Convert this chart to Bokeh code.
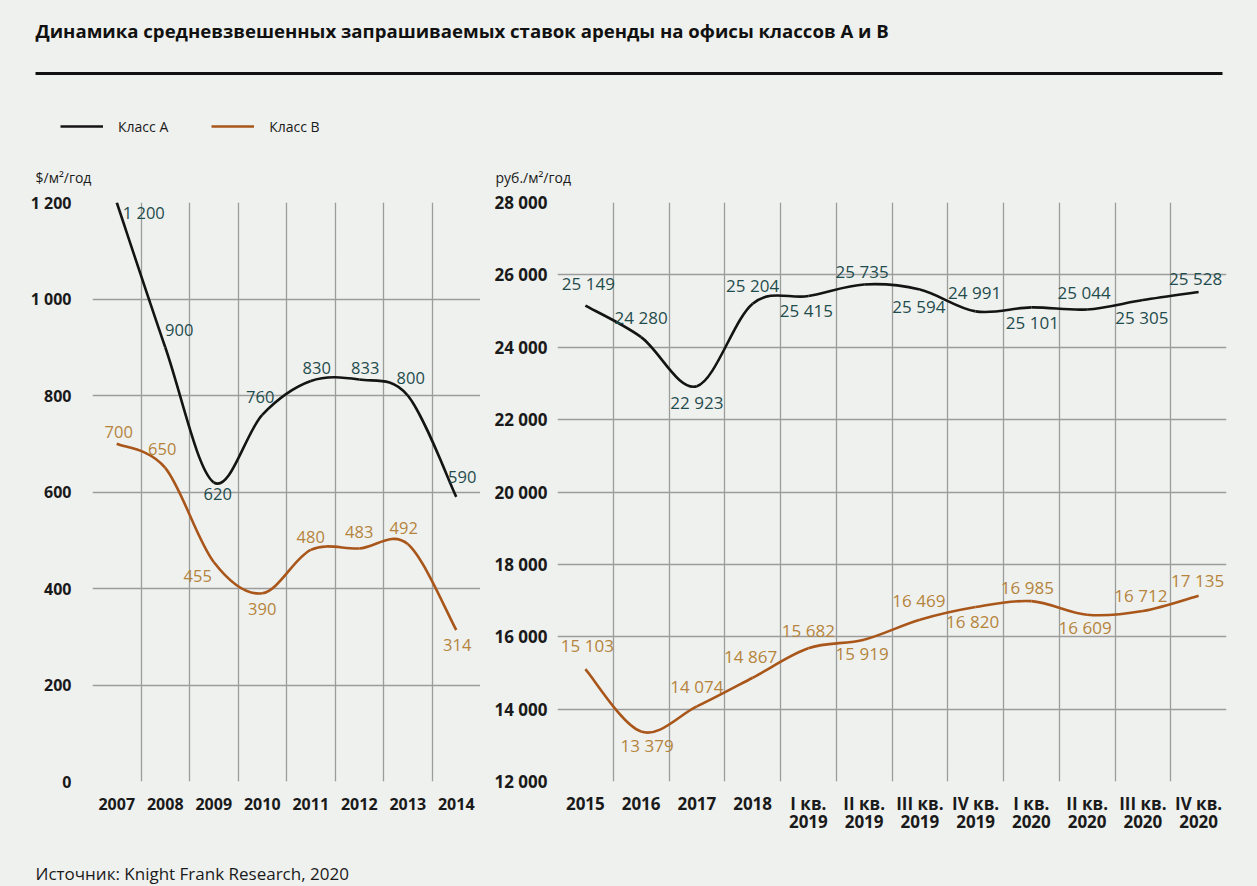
import numpy as np
from bokeh.plotting import figure
from bokeh.models import (Range1d, FixedTicker, Label, BoxAnnotation, Legend,
                          LegendItem, ColumnDataSource)
from bokeh.layouts import column, row
from bokeh.embed import file_html
from bokeh.resources import INLINE
from bokeh.core.properties import value

# ---------------------------------------------------------------- data
TITLE = "Динамика средневзвешенных запрашиваемых ставок аренды на офисы классов А и В"
SOURCE = "Источник: Knight Frank Research, 2020"
SERIES_NAMES = ["Класс А", "Класс В"]
UNIT_USD = "$/м²/год"
UNIT_RUB = "руб./м²/год"

years_usd = ["2007", "2008", "2009", "2010", "2011", "2012", "2013", "2014"]
class_a_usd = [1200, 900, 620, 760, 830, 833, 800, 590]
class_b_usd = [700, 650, 455, 390, 480, 483, 492, 314]
usd_ticks = [0, 200, 400, 600, 800, 1000, 1200]

periods_rub = ["2015", "2016", "2017", "2018",
               "I кв.\n2019", "II кв.\n2019", "III кв.\n2019", "IV кв.\n2019",
               "I кв.\n2020", "II кв.\n2020", "III кв.\n2020", "IV кв.\n2020"]
class_a_rub = [25149, 24280, 22923, 25204, 25415, 25735, 25594, 24991, 25101, 25044, 25305, 25528]
class_b_rub = [15103, 13379, 14074, 14867, 15682, 15919, 16469, 16820, 16985, 16609, 16712, 17135]
rub_ticks = [12000, 14000, 16000, 18000, 20000, 22000, 24000, 26000, 28000]

# label nudges in screen pixels (dx, dy; +dy is downwards)
nudge_a_usd = [(27, 10), (14, -17), (4, 12), (-2, -18), (6, -13), (6, -12), (3, -18), (6, -20)]
nudge_b_usd = [(2, -12), (-3, -19), (-16, 14), (0, 16), (0, -13), (0, -16), (-4, -16), (1, 15)]
nudge_a_rub = [(3, -22), (0, -20), (0, 16), (0, -18), (-2, 14), (-2, -13),
               (-1, 17), (-1, -19), (1, 15), (-3, -17), (-1, 17), (-3, -13)]
nudge_b_rub = [(2, -24), (6, 14), (0, -20), (-2, -21), (0, -18), (-2, 14),
               (-1, -19), (-3, 14), (-4, -14), (-2, 13), (-2, -15), (-1, -15)]

# ---------------------------------------------------------------- style
BG = "#eff1ef"
GRID = "#9b9d9b"
COLOR_A = "#141414"
COLOR_B = "#a9561a"
LABEL_A = "#1f4c4c"
LABEL_B = "#b5843c"
TICK = "#1a1a1a"
FONT = "Open Sans"


def fmt(v):
    return f"{v:,}".replace(",", " ")


def smooth(vals):
    """Catmull-Rom spline through the points, as cubic Bezier segments."""
    n = len(vals)
    x = np.arange(n, dtype=float)
    y = np.asarray(vals, dtype=float)
    xp = np.concatenate([[x[0]], x, [x[-1]]])
    yp = np.concatenate([[y[0]], y, [y[-1]]])
    return dict(
        x0=xp[1:n], y0=yp[1:n],
        x1=xp[2:n + 1], y1=yp[2:n + 1],
        cx0=xp[1:n] + (xp[2:n + 1] - xp[0:n - 1]) / 6,
        cy0=yp[1:n] + (yp[2:n + 1] - yp[0:n - 1]) / 6,
        cx1=xp[2:n + 1] - (xp[3:n + 2] - xp[1:n]) / 6,
        cy1=yp[2:n + 1] - (yp[3:n + 2] - yp[1:n]) / 6,
    )


def panel(width, categories, ticks, series, border_left, border_right,
          label_size, tick_size, standoff_y, standoff_x):
    n = len(categories)
    p = figure(width=width, height=655, output_backend="svg", toolbar_location=None,
               x_range=Range1d(-0.5, n - 0.5), y_range=Range1d(ticks[0], ticks[-1]),
               min_border_left=border_left, min_border_right=border_right,
               min_border_top=12, min_border_bottom=64,
               background_fill_color=BG, border_fill_color=BG, outline_line_color=None)
    p.xaxis.ticker = FixedTicker(ticks=list(range(n)))
    p.xaxis.major_label_overrides = {i: c for i, c in enumerate(categories)}
    p.yaxis.ticker = FixedTicker(ticks=ticks)
    p.yaxis.major_label_overrides = {t: fmt(t) for t in ticks}
    p.xgrid.ticker = FixedTicker(ticks=[i - 0.5 for i in range(n + 1)])
    for ax in (p.xaxis, p.yaxis):
        ax.axis_line_color = None
        ax.major_tick_line_color = None
        ax.minor_tick_line_color = None
        ax.major_label_text_font = FONT
        ax.major_label_text_font_size = tick_size
        ax.major_label_text_font_style = "bold"
        ax.major_label_text_color = TICK
    p.xaxis.major_label_text_line_height = 0.82
    p.yaxis.major_label_standoff = standoff_y
    p.xaxis.major_label_standoff = standoff_x
    for g in (p.xgrid, p.ygrid):
        g.grid_line_color = GRID
        g.grid_line_width = 1.3

    for vals, nudges, line_color, text_color in series:
        seg = ColumnDataSource(smooth(vals))
        p.bezier(x0="x0", y0="y0", x1="x1", y1="y1", cx0="cx0", cy0="cy0",
                 cx1="cx1", cy1="cy1", source=seg, line_color=line_color,
                 line_width=2.6)
        lab = ColumnDataSource(dict(
            x=list(range(n)), y=vals, text=[fmt(v) for v in vals],
            dx=[d[0] for d in nudges], dy=[d[1] for d in nudges]))
        p.text(x="x", y="y", text="text", x_offset="dx", y_offset="dy", source=lab,
               text_font=value(FONT), text_font_size=value(label_size),
               text_color=text_color, text_align="center", text_baseline="middle")
    return p


left = panel(480, years_usd, usd_ticks,
             [(class_a_usd, nudge_a_usd, COLOR_A, LABEL_A),
              (class_b_usd, nudge_b_usd, COLOR_B, LABEL_B)],
             92, 0, "16.5px", "16px", 15, 10)
right = panel(777, periods_rub, rub_ticks,
              [(class_a_rub, nudge_a_rub, COLOR_A, LABEL_A),
               (class_b_rub, nudge_b_rub, COLOR_B, LABEL_B)],
              77, 31, "17px", "17px", 4, 4)

# ---------------------------------------------------------------- header
head = figure(width=1257, height=190, output_backend="svg", toolbar_location=None,
              x_range=Range1d(0, 1257), y_range=Range1d(190, 0),
              min_border=0, background_fill_color=BG, border_fill_color=BG,
              outline_line_color=None)
head.axis.visible = False
head.grid.visible = False
head.add_layout(Label(x=35, y=30, text=TITLE, text_font=FONT, text_font_size="18.6px",
                      text_font_style="bold", text_color="#111111",
                      text_baseline="middle", text_align="left"))
head.add_layout(BoxAnnotation(left=35, right=1222, top=71.5, bottom=74.5,
                              fill_color="#111111", fill_alpha=1, line_color=None))
head.add_layout(Label(x=35, y=177, text=UNIT_USD, text_font=FONT, text_font_size="14px",
                      text_color="#1a1a1a", text_baseline="middle"))
head.add_layout(Label(x=495, y=177, text=UNIT_RUB, text_font=FONT, text_font_size="14px",
                      text_color="#1a1a1a", text_baseline="middle"))
# legend-only renderers (no visible points of their own)
ra = head.line(x=[np.nan], y=[np.nan], line_color=COLOR_A, line_width=2.6)
rb = head.line(x=[np.nan], y=[np.nan], line_color=COLOR_B, line_width=2.6)
legend = Legend(items=[LegendItem(label=SERIES_NAMES[0], renderers=[ra]),
                       LegendItem(label=SERIES_NAMES[1], renderers=[rb])],
                orientation="horizontal", location=(60, 54), padding=0, margin=0,
                spacing=43, label_standoff=15, glyph_width=43, glyph_height=20,
                border_line_color=None, background_fill_alpha=0,
                label_text_font=FONT, label_text_font_size="14px",
                label_text_color="#1a1a1a")
head.add_layout(legend)

# ---------------------------------------------------------------- footer
foot = figure(width=1257, height=41, output_backend="svg", toolbar_location=None,
              x_range=Range1d(0, 1257), y_range=Range1d(41, 0),
              min_border=0, background_fill_color=BG, border_fill_color=BG,
              outline_line_color=None)
foot.axis.visible = False
foot.grid.visible = False
foot.add_layout(Label(x=35, y=28, text=SOURCE, text_font=FONT, text_font_size="17px",
                      text_color="#1a1a1a", text_baseline="middle"))

body = row(left, right, styles={"background-color": BG})
page = column(head, body, foot, styles={"background-color": BG})
with open("out.html", "w") as f:
    f.write(file_html(page, INLINE))
